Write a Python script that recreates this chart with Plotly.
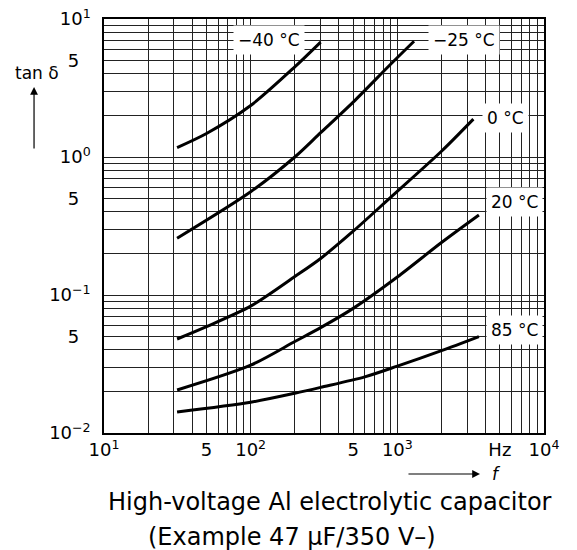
import numpy as np
import plotly.graph_objects as go

# curves (f in Hz, tan delta)
f_m40 = [31.5, 50, 100, 200, 300]
tan_m40 = [1.17, 1.48, 2.36, 4.5, 6.8]

f_m25 = [31.5, 100, 200, 300, 500, 900, 1300]
tan_m25 = [0.258, 0.56, 1.0, 1.5, 2.5, 4.7, 6.9]

f_0 = [31.5, 50, 100, 200, 300, 500, 900, 2000, 3300]
tan_0 = [0.048, 0.059, 0.083, 0.136, 0.184, 0.29, 0.51, 1.1, 1.88]

f_20 = [31.5, 100, 200, 300, 500, 1000, 2000, 3600]
tan_20 = [0.0205, 0.031, 0.046, 0.058, 0.08, 0.135, 0.24, 0.38]

f_85 = [31.5, 100, 200, 300, 600, 1000, 2000, 3600]
tan_85 = [0.0142, 0.0167, 0.0194, 0.0214, 0.0255, 0.0305, 0.0395, 0.050]

curve_labels = ["\u221240 \u00b0C", "\u221225 \u00b0C", "0 \u00b0C", "20 \u00b0C", "85 \u00b0C"]
label_x = [133, 2830, 5500, 6300, 6300]
label_y = [7.05, 7.05, 1.92, 0.47, 0.0555]

x_tick_labels = {10: "10<sup>1</sup>", 50: "5", 100: "10<sup>2</sup>", 500: "5",
                 1000: "10<sup>3</sup>", 5000: "Hz", 10000: "10<sup>4</sup>"}
y_tick_labels = {0.01: "10<sup>\u22122</sup>", 0.05: "5\u00a0\u00a0", 0.1: "10<sup>\u22121</sup>",
                 0.5: "5\u00a0\u00a0", 1: "10<sup>0</sup>", 5: "5\u00a0\u00a0", 10: "10<sup>1</sup>"}

# grid positions 1..9 x 10^k
xgrid = [m * 10 ** k for k in range(1, 4) for m in range(1, 10)] + [10000]
ygrid = [m * 10.0 ** k for k in range(-2, 1) for m in range(1, 10)] + [10]

def lab(vals, d):
    out = []
    for v in vals:
        t = ""
        for key, s in d.items():
            if abs(v - key) < 1e-9 * max(1, key):
                t = s
        out.append(t)
    return out

fig = go.Figure()
for fx, ty in [(f_m40, tan_m40), (f_m25, tan_m25), (f_0, tan_0), (f_20, tan_20), (f_85, tan_85)]:
    fig.add_trace(go.Scatter(x=fx, y=ty, mode="lines",
                             line=dict(color="black", width=3, shape="spline", smoothing=0.8)))

font = dict(family="DejaVu Sans", size=17, color="black")
tfont = dict(family="DejaVu Sans", size=18, color="black")
cfont = dict(family="DejaVu Sans", size=24, color="black")

for t, lx, ly in zip(curve_labels, label_x, label_y):
    fig.add_annotation(x=np.log10(lx), y=np.log10(ly), text=t, showarrow=False,
                       xanchor="center", yanchor="middle",
                       bgcolor="white", borderpad=4, font=font)

# y axis title + arrow
fig.add_annotation(xref="paper", yref="paper", x=-0.152, y=0.870, text="tan \u03b4",
                   xanchor="center", yanchor="middle", showarrow=False, font=font)
fig.add_annotation(xref="paper", yref="paper", x=-0.159, y=0.836, ax=0, ay=63,
                   text="", showarrow=True, arrowhead=2, arrowsize=1.3, arrowwidth=1.2,
                   arrowcolor="black")
# x axis arrow + f
fig.add_annotation(xref="paper", yref="paper", x=0.8545, y=-0.099, ax=-73, ay=0,
                   text="", showarrow=True, arrowhead=2, arrowsize=1.3, arrowwidth=1.2,
                   arrowcolor="black")
fig.add_annotation(xref="paper", yref="paper", x=0.893, y=-0.100, text="<i>f</i>",
                   xanchor="center", yanchor="middle", showarrow=False, font=font)

# caption
fig.add_annotation(xref="paper", yref="paper", x=0.514, y=-0.167,
                   text="High-voltage Al electrolytic capacitor", showarrow=False,
                   xanchor="center", yanchor="middle", font=cfont)
fig.add_annotation(xref="paper", yref="paper", x=0.427, y=-0.251,
                   text="(Example 47 \u00b5F/350 V\u2013)", showarrow=False,
                   xanchor="center", yanchor="middle", font=cfont)

fig.update_xaxes(type="log", range=[1, 4], tickvals=xgrid, ticktext=lab(xgrid, x_tick_labels),
                 showgrid=True, gridcolor="#222", gridwidth=1, ticks="",
                 showline=True, linecolor="black", linewidth=1.5, mirror=True,
                 tickfont=tfont, zeroline=False, automargin=False,
                 ticklabeloverflow="allow")
fig.update_yaxes(type="log", range=[-2, 1], tickvals=ygrid, ticktext=lab(ygrid, y_tick_labels),
                 showgrid=True, gridcolor="#222", gridwidth=1, ticks="",
                 showline=True, linecolor="black", linewidth=1.5, mirror=True,
                 tickfont=tfont, zeroline=False, ticklabelstandoff=8, automargin=False,
                 ticklabeloverflow="allow")

# page body adds 8 px, so the figure is 8 px smaller and margins shifted
fig.update_layout(width=569, height=542, margin=dict(l=96, r=33, t=11, b=117),
                  plot_bgcolor="white", paper_bgcolor="white", showlegend=False,
                  font=font)

fig.write_html("out.html")
